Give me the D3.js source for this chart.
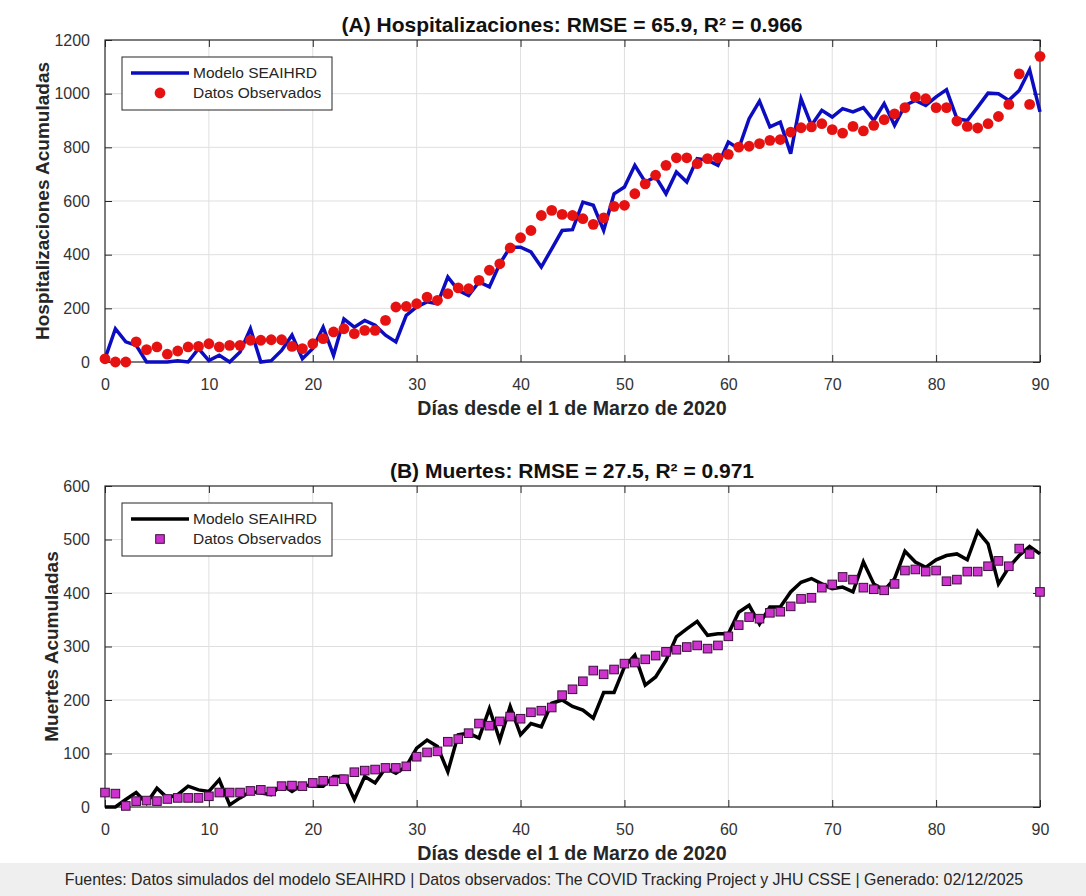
<!DOCTYPE html>
<html>
<head>
<meta charset="utf-8">
<script src="https://cdn.jsdelivr.net/npm/d3@7"></script>
<style>
  body { margin: 0; background: #fff; }
  svg { display: block; font-family: "Liberation Sans", Arial, sans-serif; }
</style>
</head>
<body>
<svg id="fig" width="1086" height="896"></svg>
<script>
// Data (one value per day 0..90)
const hospModel = [12,124,75,62,0,0,0,5,0,50, 5,25,0,37,124,0,5,43,100,12,
  50,130,25,160,130,155,137,100,75,174, 205,224,217,317,267,248,298,280,366,428,
  428,410,354,422,490,493,596,584,490,627, 652,733,671,690,627,708,671,758,752,733,
  820,795,907,972,876,894,776,981,882,938, 913,944,932,948,900,963,882,956,975,956,
  988,1015,907,900,950,1002,1000,975,1012,1089,932];
const hospObs = [12,0,0,75,46,56,29,41,56,58, 68,56,62,62,81,81,83,83,58,50,
  68,87,112,124,106,118,118,155,205,207, 217,242,230,255,276,273,304,342,366,425,
  463,490,546,565,550,546,534,513,537,580, 584,627,664,696,733,761,761,739,758,761,
  774,801,804,814,826,829,857,873,876,888, 866,853,878,861,882,903,925,948,988,981,
  948,948,898,878,872,888,915,960,1074,960,1139];
const deathModel = [0,0,14,27,7,35,17,23,39,32, 29,51,4,17,29,26,23,42,29,42,
  39,39,57,57,14,57,45,73,63,76, 110,125,113,66,135,138,129,184,125,188,
  135,156,150,194,200,188,181,166,214,214, 262,284,228,243,274,318,333,347,321,324,
  324,364,377,342,374,374,402,420,427,417, 408,411,402,458,417,405,427,478,458,448,
  462,470,473,462,515,492,417,448,470,487,473];
const deathObs = [27,25,2,11,12,11,15,17,17,17, 20,27,27,27,30,32,29,39,40,39,
  45,49,48,52,65,68,70,73,73,76, 94,102,104,122,127,138,156,152,160,169,
  165,177,180,186,209,220,235,255,248,257, 268,270,276,283,290,294,299,302,296,302,
  319,340,355,352,363,365,375,389,391,410, 416,430,425,410,407,405,417,442,444,440,
  442,422,425,440,440,450,460,450,483,473,402];

const xTicks = [0,10,20,30,40,50,60,70,80,90];
const hospTicks = [0,200,400,600,800,1000,1200];
const deathTicks = [0,100,200,300,400,500,600];

const titleA = "(A) Hospitalizaciones: RMSE = 65.9, R² = 0.966";
const titleB = "(B) Muertes: RMSE = 27.5, R² = 0.971";
const xLabel = "Días desde el 1 de Marzo de 2020";
const legendLabels = ["Modelo SEAIHRD", "Datos Observados"];
const footer = "Fuentes: Datos simulados del modelo SEAIHRD | Datos observados: The COVID Tracking Project y JHU CSSE | Generado: 02/12/2025";

const svg = d3.select("#fig");
const axisColor = "#262626";

// footer band
svg.append("rect").attr("x", 0).attr("y", 863).attr("width", 1086).attr("height", 33).attr("fill", "#efefef");
svg.append("text").attr("x", 544).attr("y", 885).attr("text-anchor", "middle")
  .style("font-size", "15.9px").style("fill", "#262626").text(footer);

function panel(opts) {
  const { top, bottom, yMax, yTicks, model, obs, lineColor, title, yLabel, yLabelX, marker } = opts;
  const left = 105, right = 1040;
  const x = d3.scaleLinear().domain([0, 90]).range([left, right]);
  const y = d3.scaleLinear().domain([0, yMax]).range([bottom, top]);
  const g = svg.append("g");

  // grid
  g.append("g").selectAll("line").data(xTicks.slice(1, -1)).join("line")
    .attr("x1", d => x(d)).attr("x2", d => x(d)).attr("y1", top).attr("y2", bottom)
    .attr("stroke", "#dfdfdf");
  g.append("g").selectAll("line").data(yTicks.slice(1, -1)).join("line")
    .attr("y1", d => y(d)).attr("y2", d => y(d)).attr("x1", left).attr("x2", right)
    .attr("stroke", "#dfdfdf");

  // axes with inward ticks
  const styleAxis = sel => {
    sel.select(".domain").remove();
    sel.selectAll(".tick line").attr("stroke", axisColor);
    sel.selectAll(".tick text").style("font-size", "16px").style("fill", "#333")
      .style("font-family", "'Liberation Sans', Arial, sans-serif");
  };
  g.append("g").attr("transform", `translate(0,${bottom})`)
    .call(d3.axisBottom(x).tickValues(xTicks).tickSizeInner(-7).tickSizeOuter(0).tickPadding(17))
    .call(styleAxis);
  g.append("g").attr("transform", `translate(0,${top})`)
    .call(d3.axisTop(x).tickValues(xTicks).tickSizeInner(-7).tickSizeOuter(0).tickFormat(""))
    .call(styleAxis);
  g.append("g").attr("transform", `translate(${left},0)`)
    .call(d3.axisLeft(y).tickValues(yTicks).tickFormat(d3.format("d")).tickSizeInner(-7).tickSizeOuter(0).tickPadding(15))
    .call(styleAxis);
  g.append("g").attr("transform", `translate(${right},0)`)
    .call(d3.axisRight(y).tickValues(yTicks).tickSizeInner(-7).tickSizeOuter(0).tickFormat(""))
    .call(styleAxis);
  g.append("rect").attr("x", left).attr("y", top).attr("width", right - left).attr("height", bottom - top)
    .attr("fill", "none").attr("stroke", axisColor).attr("stroke-width", 1.2);

  // model line
  const line = d3.line().x((d, i) => x(i)).y(d => y(d));
  g.append("path").datum(model).attr("d", line).attr("fill", "none")
    .attr("stroke", lineColor).attr("stroke-width", 3.5).attr("stroke-linejoin", "miter");

  // observed markers
  if (marker === "circle") {
    g.append("g").selectAll("circle").data(obs).join("circle")
      .attr("cx", (d, i) => x(i)).attr("cy", d => y(d)).attr("r", 5.4).attr("fill", "#e61212");
  } else {
    g.append("g").selectAll("rect").data(obs).join("rect")
      .attr("x", (d, i) => x(i) - 4.3).attr("y", d => y(d) - 4.3)
      .attr("width", 8.6).attr("height", 8.6)
      .attr("fill", "#cc33cc").attr("stroke", "#3a103a").attr("stroke-width", 1);
  }

  // title and labels
  svg.append("text").attr("x", 572).attr("y", top - 8).attr("text-anchor", "middle")
    .style("font-size", "21px").style("font-weight", "bold").style("fill", "#111").text(title);
  svg.append("text").attr("x", 572).attr("y", bottom + 53).attr("text-anchor", "middle")
    .style("font-size", "19.6px").style("font-weight", "bold").style("fill", "#262626").text(xLabel);
  svg.append("text").attr("transform", `translate(${yLabelX},${(top + bottom) / 2}) rotate(-90)`)
    .attr("text-anchor", "middle")
    .style("font-size", "19px").style("font-weight", "bold").style("fill", "#262626").text(yLabel);

  // legend
  const lg = svg.append("g").attr("transform", `translate(122,${top + 17})`);
  lg.append("rect").attr("width", 210).attr("height", 53).attr("fill", "#fff")
    .attr("stroke", axisColor).attr("stroke-width", 1);
  lg.append("line").attr("x1", 9).attr("x2", 67).attr("y1", 16).attr("y2", 16)
    .attr("stroke", lineColor).attr("stroke-width", 3.5);
  if (marker === "circle") {
    lg.append("circle").attr("cx", 38).attr("cy", 36).attr("r", 5.4).attr("fill", "#e61212");
  } else {
    lg.append("rect").attr("x", 33.7).attr("y", 31.7).attr("width", 8.6).attr("height", 8.6)
      .attr("fill", "#cc33cc").attr("stroke", "#3a103a");
  }
  lg.selectAll("text.lab").data(legendLabels).join("text").attr("class", "lab")
    .attr("x", 71).attr("y", (d, i) => 21 + i * 20)
    .style("font-size", "15.5px").style("fill", "#262626").text(d => d);
}

panel({ top: 40, bottom: 362, yMax: 1200, yTicks: hospTicks, model: hospModel, obs: hospObs,
  lineColor: "#0c0cc0", title: titleA, yLabel: "Hospitalizaciones Acumuladas", yLabelX: 49, marker: "circle" });
panel({ top: 486, bottom: 807, yMax: 600, yTicks: deathTicks, model: deathModel, obs: deathObs,
  lineColor: "#000", title: titleB, yLabel: "Muertes Acumuladas", yLabelX: 58, marker: "square" });
</script>
</body>
</html>
